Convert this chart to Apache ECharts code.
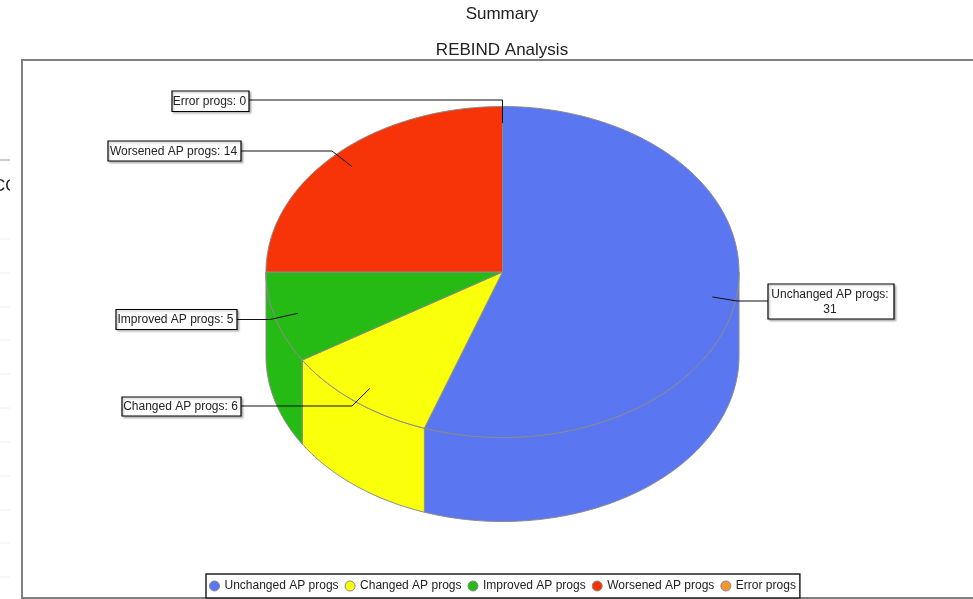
<!DOCTYPE html>
<html><head><meta charset="utf-8">
<style>html,body{margin:0;padding:0;background:#fff}#c{width:973px;height:599px}</style>
<script src="https://cdn.jsdelivr.net/npm/echarts@6/dist/echarts.min.js"></script>
</head><body><div id="c"></div>
<script>
const titles = ['Summary', 'REBIND Analysis'];
const categories = ['Unchanged AP progs', 'Changed AP progs', 'Improved AP progs', 'Worsened AP progs', 'Error progs'];
const values = [31, 6, 5, 14, 0];
const colors = ['#5B76F1', '#FAFF0A', '#25BB14', '#F73408', '#F7962F'];

// Pie geometry (pixels)
const CX = 502.5, CY = 272, RX = 236.5, RY = 165.5, DEPTH = 84, ANCHOR = 0.9;
// Callout boxes and leader elbows (pixels), one per category
const boxes = [[768, 284, 126, 35], [122, 397, 119, 19], [116, 309.5, 121, 20], [108, 141, 133, 20], [172, 91, 77, 20.5]];
const elbows = [[737, 301], [352, 406], [270, 319.5], [332, 151], [502.5, 100]];
const wrapped = [true, false, false, false, false];
const gutterLines = [239, 273, 307, 340, 374, 408, 442, 476, 510, 543, 577];

const total = values.reduce((a, b) => a + b, 0);
const toAngle = v => v / total * 2 * Math.PI;
const onRim = (a, r, dy) => [CX + RX * r * Math.sin(a), CY - RY * r * Math.cos(a) + (dy || 0)];
function arc(a0, a1, dy) {
  const n = Math.max(2, Math.ceil(Math.abs(a1 - a0) / 0.01)), pts = [];
  for (let i = 0; i <= n; i++) pts.push(onRim(a0 + (a1 - a0) * i / n, 1, dy));
  return pts;
}
const EDGE = { stroke: '#8a8a8a', lineWidth: 1 };

function renderSlice(i) {
  return function (params, api) {
    const value = api.value(0);
    let before = 0;
    for (let k = 0; k < i; k++) before += values[k];
    const a0 = toAngle(before), a1 = toAngle(before + value), mid = (a0 + a1) / 2;
    const fill = colors[i], children = [];
    if (value > 0) {
      const w0 = Math.max(a0, Math.PI / 2), w1 = Math.min(a1, 3 * Math.PI / 2);
      if (w1 > w0) {
        children.push({ type: 'polygon', z2: 1,
          shape: { points: arc(w0, w1, 0).concat(arc(w1, w0, DEPTH)) },
          style: Object.assign({ fill }, EDGE) });
      }
      children.push({ type: 'polygon', z2: 2,
        shape: { points: [[CX, CY]].concat(arc(a0, a1, 0)) },
        style: Object.assign({ fill }, EDGE) });
    }
    const b = boxes[i], e = elbows[i], tip = onRim(mid, ANCHOR);
    const labelEnd = e[0] > b[0] + b[2] ? [b[0] + b[2], e[1]] : [b[0], e[1]];
    children.push({ type: 'polyline', z2: 5, shape: { points: [tip, e, labelEnd] },
      style: { stroke: '#111', lineWidth: 1, fill: null } });
    children.push({ type: 'rect', z2: 6, shape: { x: b[0], y: b[1], width: b[2], height: b[3] },
      style: { fill: '#fff', stroke: '#000', lineWidth: 1.2, shadowBlur: 2, shadowOffsetX: 1.5, shadowOffsetY: 1.5, shadowColor: 'rgba(0,0,0,0.25)' } });
    const text = categories[i] + ':' + (wrapped[i] ? '\n' : ' ') + value;
    children.push({ type: 'text', z2: 7, x: b[0] + b[2] / 2 - 1, y: b[1] + b[3] / 2 + 0.5,
      style: { text, align: 'center', verticalAlign: 'middle', fill: '#222', lineHeight: 15,
        font: '12px "Liberation Sans", Arial, sans-serif' } });
    return { type: 'group', children };
  };
}

const font = '"Liberation Sans", Arial, sans-serif';
const decor = [
  { type: 'text', x: -7, y: 178, z: -3, style: { text: 'CO', font: '17px ' + font, fill: '#222' } },
  { type: 'rect', shape: { x: 10, y: 165, width: 11, height: 40 }, z: -2, style: { fill: '#fff' } },
  { type: 'line', shape: { x1: 0, y1: 160, x2: 10, y2: 160 }, style: { stroke: '#999', lineWidth: 1 } },
  { type: 'polyline', z: -1, shape: { points: [[980, 60], [22, 60], [22, 598], [980, 598]] },
    style: { stroke: '#808080', lineWidth: 2, fill: null } }
].concat(gutterLines.map(y => ({ type: 'line', shape: { x1: 0, y1: y, x2: 10, y2: y }, style: { stroke: '#eee', lineWidth: 1 } })));

const chart = echarts.init(document.getElementById('c'), null, { renderer: 'canvas' });
chart.setOption({
  animation: false,
  backgroundColor: '#fff',
  title: [
    { text: titles[0], left: 497, top: 1, textAlign: 'center', textStyle: { fontSize: 17, fontWeight: 'normal', fontFamily: font, color: '#222' } },
    { text: titles[1], left: 497, top: 37, textAlign: 'center', textStyle: { fontSize: 17, fontWeight: 'normal', fontFamily: font, color: '#222' } }
  ],
  graphic: decor,
  legend: {
    data: categories, left: 206, top: 574, orient: 'horizontal', icon: 'circle',
    itemWidth: 10, itemHeight: 10, itemGap: 6, padding: [6, 4, 6, 3],
    backgroundColor: '#fff', borderColor: '#222', borderWidth: 1.5,
    selectedMode: false,
    itemStyle: { borderColor: '#888', borderWidth: 1 },
    textStyle: { fontSize: 12, fontFamily: font, color: '#222', padding: [1, 0, 0, 0] }
  },
  series: categories.map((name, i) => ({
    type: 'custom', name, coordinateSystem: 'none', silent: true,
    itemStyle: { color: colors[i] },
    renderItem: renderSlice(i),
    data: [[values[i]]]
  }))
});
</script></body></html>
